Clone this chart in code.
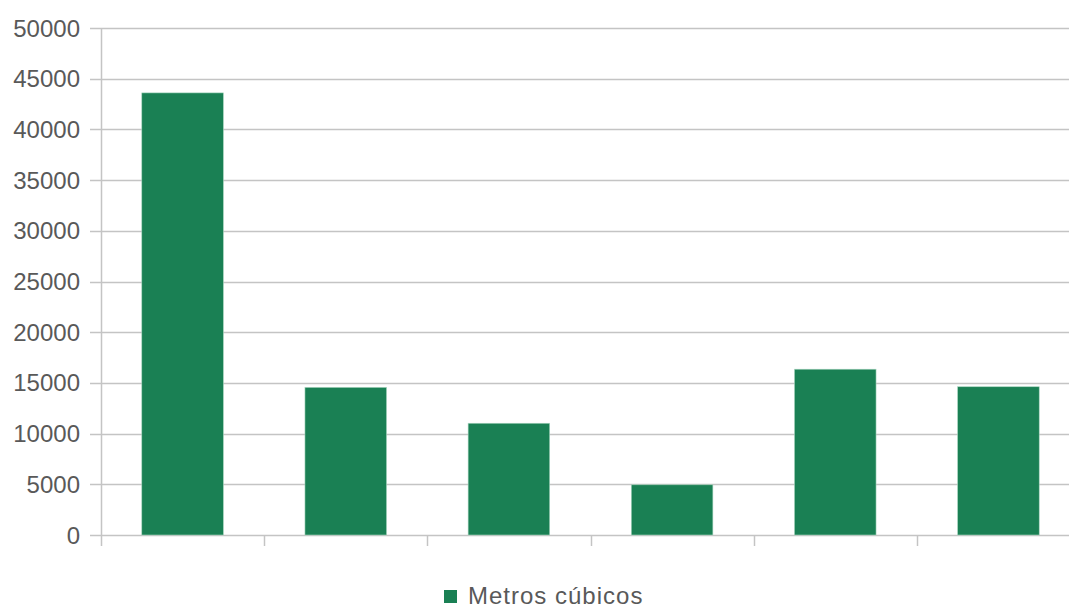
<!DOCTYPE html>
<html>
<head>
<meta charset="utf-8">
<script src="https://cdn.jsdelivr.net/npm/d3@7"></script>
<style>
  body { margin: 0; background: #fff; }
  text { font-family: "Liberation Sans", Arial, sans-serif; fill: #595959; }
</style>
</head>
<body>
<div id="chart"></div>
<script>
// Data
const categories = ["A", "B", "C", "D", "E", "F"];
const values = [43600, 14560, 11020, 4950, 16350, 14620];
const yTicks = [0, 5000, 10000, 15000, 20000, 25000, 30000, 35000, 40000, 45000, 50000];
const seriesName = "Metros cúbicos";

const width = 1069,
  height = 608;
const margin = { top: 28, right: -11, bottom: 73, left: 101 };

const svg = d3
  .select("#chart")
  .append("svg")
  .attr("width", width)
  .attr("height", height);

const x = d3
  .scaleBand()
  .domain(categories)
  .range([margin.left, width - margin.right])
  .paddingInner(0.5)
  .paddingOuter(0.25);

const y = d3
  .scaleLinear()
  .domain([0, 50000])
  .range([height - margin.bottom, margin.top]);

// horizontal gridlines and y labels
const grid = svg.append("g");
grid
  .selectAll("line")
  .data(yTicks)
  .join("line")
  .attr("x1", margin.left - 11)
  .attr("x2", width - margin.right)
  .attr("y1", (d) => Math.round(y(d)) + 0.5)
  .attr("y2", (d) => Math.round(y(d)) + 0.5)
  .attr("stroke", "#c4c4c4")
  .attr("stroke-width", 1.5);

grid
  .selectAll("text")
  .data(yTicks)
  .join("text")
  .attr("x", margin.left - 21)
  .attr("y", (d) => y(d) + 8.5)
  .attr("text-anchor", "end")
  .attr("font-size", 24)
  .text((d) => d);

// vertical axis line
svg
  .append("line")
  .attr("x1", margin.left + 0.5)
  .attr("x2", margin.left + 0.5)
  .attr("y1", y(50000))
  .attr("y2", y(0) + 11)
  .attr("stroke", "#c4c4c4")
  .attr("stroke-width", 1.5);

// category separator ticks
const step = x.step();
const boundaries = categories.map((c, i) => margin.left + i * step);
svg
  .append("g")
  .selectAll("line")
  .data(boundaries.slice(1))
  .join("line")
  .attr("x1", (d) => Math.round(d) + 0.5)
  .attr("x2", (d) => Math.round(d) + 0.5)
  .attr("y1", y(0))
  .attr("y2", y(0) + 11)
  .attr("stroke", "#c4c4c4")
  .attr("stroke-width", 1.5);

// bars
svg
  .append("g")
  .selectAll("rect")
  .data(values)
  .join("rect")
  .attr("x", (d, i) => x(categories[i]))
  .attr("y", (d) => y(d))
  .attr("width", x.bandwidth())
  .attr("height", (d) => y(0) - y(d))
  .attr("fill", "#1a8054")
  .attr("stroke", "#a8d5bf")
  .attr("stroke-width", 0.6);

// legend
const legend = svg.append("g").attr("transform", "translate(444,590)");
legend
  .append("rect")
  .attr("width", 13)
  .attr("height", 13)
  .attr("fill", "#1a8054");
legend
  .append("text")
  .attr("x", 24)
  .attr("y", 14)
  .attr("font-size", 24)
  .attr("letter-spacing", 1)
  .text(seriesName);
</script>
</body>
</html>
